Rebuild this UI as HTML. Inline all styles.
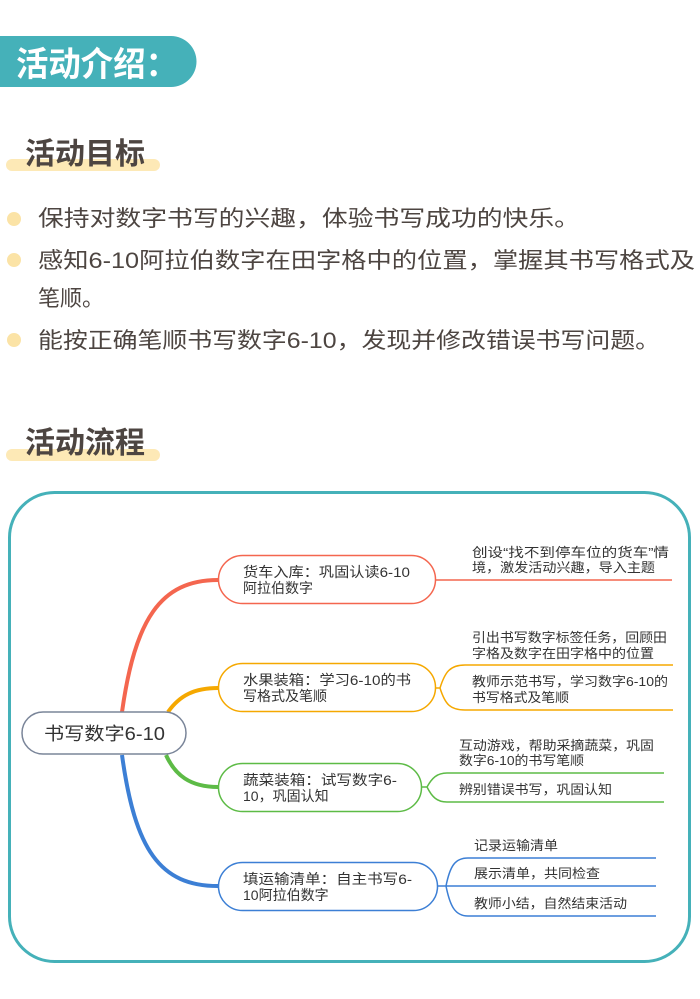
<!DOCTYPE html>
<html><head><meta charset="utf-8"><style>
html,body{margin:0;padding:0;background:#fff;}
svg{display:block;}
text{font-family:"Liberation Sans","Noto Sans CJK SC",sans-serif;}
</style></head><body>
<svg width="700" height="999" viewBox="0 0 700 999" xmlns="http://www.w3.org/2000/svg">
<!-- header pill -->
<path d="M0 36 H171 A25.5 25.5 0 0 1 171 87 H0 Z" fill="#45b1b9"/>
<text x="16" y="76" font-size="34" font-weight="bold" fill="#fff" textLength="162" lengthAdjust="spacingAndGlyphs">活动介绍：</text>

<!-- 活动目标 -->
<rect x="6" y="159" width="154" height="12" rx="6" fill="#fde9b6"/>
<text x="25" y="164" font-size="30" font-weight="bold" fill="#4d4541" textLength="120" lengthAdjust="spacingAndGlyphs">活动目标</text>

<g fill="#fbe3a6"><circle cx="14" cy="219" r="7"/><circle cx="14" cy="260" r="7"/><circle cx="14" cy="340" r="7"/></g>
<g font-size="22" fill="#4d4541">
<text x="38" y="226" textLength="542" lengthAdjust="spacingAndGlyphs">保持对数字书写的兴趣，体验书写成功的快乐。</text>
<text x="38" y="268" textLength="657" lengthAdjust="spacingAndGlyphs">感知6-10阿拉伯数字在田字格中的位置，掌握其书写格式及</text>
<text x="38" y="306" textLength="66" lengthAdjust="spacingAndGlyphs">笔顺。</text>
<text x="38" y="348" textLength="622" lengthAdjust="spacingAndGlyphs">能按正确笔顺书写数字6-10，发现并修改错误书写问题。</text>
</g>

<!-- 活动流程 -->
<rect x="6" y="449" width="154" height="12" rx="6" fill="#fde9b6"/>
<text x="25" y="453" font-size="30" font-weight="bold" fill="#4d4541" textLength="120" lengthAdjust="spacingAndGlyphs">活动流程</text>

<!-- frame -->
<rect x="9.5" y="492.5" width="680" height="469" rx="45" fill="none" stroke="#45b1b9" stroke-width="3"/>

<!-- branches -->
<path d="M122 712 C135 620 160 580 218 580" fill="none" stroke="#f4664f" stroke-width="4"/>
<path d="M168 712 C180 695 195 688 218 688" fill="none" stroke="#f5a800" stroke-width="4"/>
<path d="M166 755 C175 775 190 787 218 787" fill="none" stroke="#5dbb46" stroke-width="4"/>
<path d="M122 755 C135 850 160 886 218 886" fill="none" stroke="#3c7fd5" stroke-width="4"/>

<!-- root -->
<rect x="22" y="712" width="164" height="42" rx="21" fill="#fff" stroke="#7a8599" stroke-width="1.5"/>
<text x="44" y="740" font-size="18" fill="#333" textLength="121" lengthAdjust="spacingAndGlyphs">书写数字6-10</text>

<!-- node1 -->
<rect x="218.5" y="555.5" width="217" height="48" rx="24" fill="#fff" stroke="#f4664f" stroke-width="1.5"/>
<g font-size="14" fill="#333">
<text x="243" y="577" textLength="167" lengthAdjust="spacingAndGlyphs">货车入库：巩固认读6-10</text>
<text x="243" y="593">阿拉伯数字</text>
</g>
<line x1="435" y1="580" x2="672" y2="580" stroke="#f4664f" stroke-width="1.5"/>
<g font-size="13" fill="#333">
<text x="472" y="557" textLength="197" lengthAdjust="spacingAndGlyphs">创设“找不到停车位的货车”情</text>
<text x="472" y="572" textLength="183" lengthAdjust="spacingAndGlyphs">境，激发活动兴趣，导入主题</text>
</g>

<!-- node2 -->
<rect x="218.5" y="663.5" width="217" height="48" rx="24" fill="#fff" stroke="#f5a800" stroke-width="1.5"/>
<g font-size="14" fill="#333">
<text x="243" y="685" textLength="168" lengthAdjust="spacingAndGlyphs">水果装箱：学习6-10的书</text>
<text x="243" y="701">写格式及笔顺</text>
</g>
<path d="M435 688 H440 M440 688 C445 672 450 665 465 665 H673 M440 688 C445 704 450 710 465 710 H673" fill="none" stroke="#f5a800" stroke-width="1.5"/>
<g font-size="13" fill="#333">
<text x="472" y="642" textLength="195" lengthAdjust="spacingAndGlyphs">引出书写数字标签任务，回顾田</text>
<text x="472" y="658" textLength="182" lengthAdjust="spacingAndGlyphs">字格及数字在田字格中的位置</text>
<text x="472" y="686" textLength="196" lengthAdjust="spacingAndGlyphs">教师示范书写，学习数字6-10的</text>
<text x="472" y="702" textLength="97" lengthAdjust="spacingAndGlyphs">书写格式及笔顺</text>
</g>

<!-- node3 -->
<rect x="218.5" y="763.5" width="203" height="48" rx="24" fill="#fff" stroke="#5dbb46" stroke-width="1.5"/>
<g font-size="14" fill="#333">
<text x="243" y="785" textLength="154" lengthAdjust="spacingAndGlyphs">蔬菜装箱：试写数字6-</text>
<text x="243" y="801">10，巩固认知</text>
</g>
<path d="M421 787 H427 M427 787 C432 778 437 773 447 773 H664 M427 787 C432 797 437 802 447 802 H664" fill="none" stroke="#5dbb46" stroke-width="1.5"/>
<g font-size="13" fill="#333">
<text x="459" y="750" textLength="195" lengthAdjust="spacingAndGlyphs">互动游戏，帮助采摘蔬菜，巩固</text>
<text x="459" y="765" textLength="125" lengthAdjust="spacingAndGlyphs">数字6-10的书写笔顺</text>
<text x="459" y="794" textLength="153" lengthAdjust="spacingAndGlyphs">辨别错误书写，巩固认知</text>
</g>

<!-- node4 -->
<rect x="218.5" y="862.5" width="219" height="48" rx="24" fill="#fff" stroke="#3c7fd5" stroke-width="1.5"/>
<g font-size="14" fill="#333">
<text x="243" y="884" textLength="169" lengthAdjust="spacingAndGlyphs">填运输清单：自主书写6-</text>
<text x="243" y="900">10阿拉伯数字</text>
</g>
<path d="M437 886 H446 M446 886 C450 866 455 858 468 858 H656 M446 886 H656 M446 886 C450 906 455 916 468 916 H656" fill="none" stroke="#3c7fd5" stroke-width="1.5"/>
<g font-size="13" fill="#333">
<text x="474" y="850" textLength="84" lengthAdjust="spacingAndGlyphs">记录运输清单</text>
<text x="474" y="878" textLength="126" lengthAdjust="spacingAndGlyphs">展示清单，共同检查</text>
<text x="474" y="908" textLength="153" lengthAdjust="spacingAndGlyphs">教师小结，自然结束活动</text>
</g>
</svg>
</body></html>
